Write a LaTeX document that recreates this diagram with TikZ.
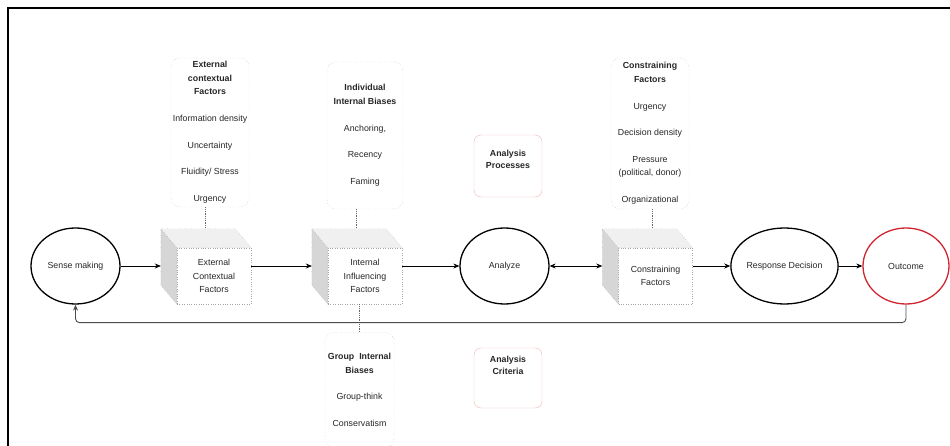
\documentclass[tikz,border=0pt]{standalone}
\usepackage{fontspec}
\setmainfont{Liberation Sans}
\usetikzlibrary{shapes.geometric,arrows.meta}
\definecolor{txt}{HTML}{262626}
\definecolor{outred}{HTML}{D0242F}
\definecolor{softred}{HTML}{F0B4B4}
\tikzset{
	every node/.style={font=\fontsize{8.8}{13.5}\selectfont, text=txt},
	proc/.style={ellipse, draw, line width=1.3pt, minimum width=89pt, minimum height=76pt, inner sep=0pt},
	front/.style={draw=gray!70, dotted, minimum width=74pt, minimum height=56pt, align=center, inner sep=0pt},
	topface/.style={fill=gray!12, draw=gray!70, dotted},
	sideface/.style={fill=gray!32, draw=gray!70, dotted},
	note/.style={draw=gray!70, dotted, rounded corners=9pt, align=center, inner sep=0pt},
	abox/.style={draw=softred, rounded corners=7pt, minimum width=68pt, inner sep=0pt},
	link/.style={densely dotted, gray!80!black, line width=0.8pt},
	flow/.style={->, line width=0.7pt},
}
\newcommand{\gap}{\\[13.2pt]}
\begin{document}
\begin{tikzpicture}[>={Stealth[length=6pt,width=5pt]}, x=1pt, y=-1pt]
	\useasboundingbox (0,0) rectangle (950,446);
	\draw[line width=2.5pt] (8,446) -- (8,8) -- (950,8);
	% main chain
	\node[proc] (sense) at (75.5,266) {Sense making};
	\node[front] (ext) at (214,276) {External\\Contextual\\Factors};
	\node[front] (int) at (365,276) {Internal\\Influencing\\Factors};
	\node[proc] (ana) at (504.5,266) {Analyze};
	\node[front] (con) at (655.5,276) {Constraining\\Factors};
	\node[proc] (resp) at (784.5,266) {Response Decision};
	\node[proc, draw=outred, minimum width=86pt] (out) at (906,266) {Outcome};
	% cube faces
	\foreach \c in {ext,int,con}{
		\filldraw[topface] (\c.north west) -- ++(-16,-19) -- ([xshift=-16pt,yshift=19pt]\c.north east) -- (\c.north east) -- cycle;
		\filldraw[sideface] (\c.north west) -- ++(-16,-19) -- ([xshift=-16pt,yshift=19pt]\c.south west) -- (\c.south west) -- cycle;
	}
	% factor lists
	\node[note, minimum width=78pt, minimum height=149pt] (extn) at (210,132.5)
		{\textbf{External}\\\textbf{contextual}\\\textbf{Factors}\gap Information density\gap Uncertainty\gap Fluidity/ Stress\gap Urgency};
	\node[note, minimum width=76pt, minimum height=147pt] (indiv) at (365,135.5)
		{\textbf{Individual}\\\textbf{Internal Biases}\gap Anchoring,\gap Recency\gap Faming};
	\node[note, minimum width=69pt, minimum height=115pt] (group) at (359.5,390)
		{\textbf{Group\ \ Internal}\\\textbf{Biases}\gap Group-think\gap Conservatism};
	\node[note, minimum width=78pt, minimum height=151pt] (conn) at (650,133.5)
		{\textbf{Constraining}\\\textbf{Factors}\gap Urgency\gap Decision density\gap Pressure\\(political, donor)\gap Organizational};
	% analysis boxes
	\node[abox, minimum height=62pt, label={[anchor=north, yshift=-12pt, align=center, font=\bfseries\fontsize{8.8}{12}\selectfont]north:Analysis\\Processes}] (procs) at (508,166) {};
	\node[abox, minimum height=60pt, label={[anchor=north, yshift=-5pt, align=center, font=\bfseries\fontsize{8.8}{12}\selectfont]north:Analysis\\Criteria}] (crit) at (508,378) {};
	% dotted links
	\draw[link] ([xshift=-9pt]ext.north |- extn.south) -- ([xshift=-9pt,yshift=19pt]ext.north);
	\draw[link] ([xshift=-9pt]int.north |- indiv.south) -- ([xshift=-9pt,yshift=19pt]int.north);
	\draw[link] ([xshift=-3pt]con.north |- conn.south) -- ([xshift=-3pt,yshift=19pt]con.north);
	\draw[link] ([xshift=-6pt]int.south) -- ([xshift=-6pt]int.south |- group.north);
	% arrows
	\draw[flow] (sense) -- ([xshift=-16pt]ext.west |- sense);
	\draw[flow] (ext.east |- sense) -- ([xshift=-16pt]int.west |- sense);
	\draw[flow] (int.east |- sense) -- (ana);
	\draw[flow, <->] (ana) -- ([xshift=-16pt]con.west |- sense);
	\draw[flow] (con.east |- sense) -- (resp);
	\draw[flow] (resp) -- (out);
	\draw[flow, gray!60!black, line width=0.9pt, rounded corners=4pt] (out.south) -- ++(0,18) -| (sense.south);
\end{tikzpicture}
\end{document}
